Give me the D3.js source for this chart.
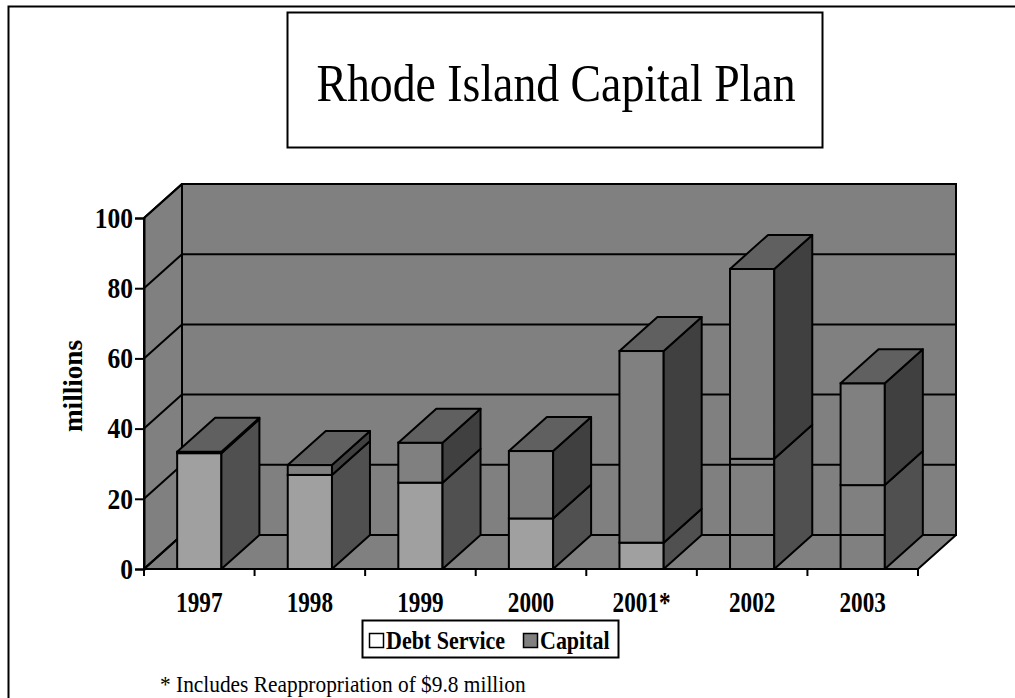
<!DOCTYPE html>
<html>
<head>
<meta charset="utf-8">
<script src="https://cdn.jsdelivr.net/npm/d3@7"></script>
<style>
  body { margin: 0; background: #fff; }
  svg { display: block; }
</style>
</head>
<body>
<svg id="chart" width="1015" height="698"></svg>
<script>
// Annual totals in millions of dollars
const years = ["1997", "1998", "1999", "2000", "2001*", "2002", "2003"];
const debtService = [33.0, 26.8, 24.6, 14.4, 7.5, 31.4, 23.9];
const capital = [0.4, 2.8, 11.4, 19.2, 54.6, 54.1, 29.0];
const yTicks = [0, 20, 40, 60, 80, 100];
const seriesNames = ["Debt Service", "Capital"];

const serif = "'Liberation Serif', 'Times New Roman', serif";
const narrow = 0.86; // horizontal squeeze applied to the lettering
const svg = d3.select("#chart");

// Places a horizontally condensed label at (px, py)
function label(parent, px, py, str, size, opts = {}) {
  const grp = parent.append("g")
    .attr("transform", `translate(${px},${py}) ${opts.rotate ? `rotate(${opts.rotate})` : ""} scale(${opts.sx || narrow},1)`);
  return grp.append("text")
    .attr("text-anchor", opts.anchor || "start")
    .attr("font-family", serif).attr("font-size", size)
    .attr("font-weight", opts.bold ? "bold" : "normal")
    .attr("fill", "#000")
    .text(str);
}

// Page frame
svg.append("rect")
  .attr("x", 8.5).attr("y", 6.5).attr("width", 1200).attr("height", 900)
  .attr("fill", "none").attr("stroke", "#000").attr("stroke-width", 2);

// Title box
svg.append("rect")
  .attr("x", 287.5).attr("y", 12.5).attr("width", 535).attr("height", 135)
  .attr("fill", "#fff").attr("stroke", "#000").attr("stroke-width", 2);
label(svg, 556, 101, "Rhode Island Capital Plan", 52, { anchor: "middle", sx: 0.88 });

// 3-D plot geometry
const x0 = 144, x1 = 918;
const dx = 38, dy = -34;
const x = d3.scaleBand().domain(years).range([x0, x1]);
const y = d3.scaleLinear().domain([0, 100]).range([569, 218]);

const line = { stroke: "#000", width: 2 };
const wallFill = "#808080";
const pt = p => p.join(",");

const g = svg.append("g");

// Side wall
g.append("polygon")
  .attr("points", [[x0, y(0)], [x0 + dx, y(0) + dy], [x0 + dx, y(100) + dy], [x0, y(100)]].map(pt).join(" "))
  .attr("fill", wallFill).attr("stroke", line.stroke).attr("stroke-width", line.width)
  .attr("stroke-linejoin", "round");
// Back wall
g.append("rect")
  .attr("x", x0 + dx).attr("y", y(100) + dy)
  .attr("width", x1 - x0).attr("height", y(0) - y(100))
  .attr("fill", wallFill).attr("stroke", line.stroke).attr("stroke-width", line.width);
// Floor
g.append("polygon")
  .attr("points", [[x0, y(0)], [x0 + dx, y(0) + dy], [x1 + dx, y(0) + dy], [x1, y(0)]].map(pt).join(" "))
  .attr("fill", wallFill).attr("stroke", line.stroke).attr("stroke-width", line.width)
  .attr("stroke-linejoin", "round");

// Gridlines on the back and side walls
yTicks.forEach(t => {
  g.append("line")
    .attr("x1", x0 + dx).attr("x2", x1 + dx)
    .attr("y1", y(t) + dy).attr("y2", y(t) + dy)
    .attr("stroke", line.stroke).attr("stroke-width", line.width);
  g.append("line")
    .attr("x1", x0).attr("x2", x0 + dx)
    .attr("y1", y(t)).attr("y2", y(t) + dy)
    .attr("stroke", line.stroke).attr("stroke-width", line.width);
});

// Stacked columns
const rows = years.map((yr, i) => ({ year: yr, "Debt Service": debtService[i], "Capital": capital[i] }));
const stacked = d3.stack().keys(seriesNames)(rows);

const faceColors = {
  "Debt Service": { front: "#a0a0a0", side: "#505050", top: "#606060" },
  "Capital": { front: "#808080", side: "#404040", top: "#606060" }
};
// Later-year debt service is drawn with an open front face
const openFront = new Set(["2002", "2003"]);

const barW = x.bandwidth() * 0.4;
const bars = g.append("g");

years.forEach((yr, i) => {
  const left = x(yr) + (x.bandwidth() - barW) / 2;
  const right = left + barW;
  stacked.forEach((layer, li) => {
    const [v0, v1] = layer[i];
    const yb = y(v0), yt = y(v1);
    const c = faceColors[layer.key];
    const isOpen = layer.key === "Debt Service" && openFront.has(yr);
    bars.append("rect")
      .attr("x", left).attr("y", yt)
      .attr("width", barW).attr("height", yb - yt)
      .attr("fill", isOpen ? "none" : c.front)
      .attr("stroke", line.stroke).attr("stroke-width", line.width);
    bars.append("polygon")
      .attr("points", [[right, yb], [right + dx, yb + dy], [right + dx, yt + dy], [right, yt]].map(pt).join(" "))
      .attr("fill", c.side)
      .attr("stroke", line.stroke).attr("stroke-width", line.width)
      .attr("stroke-linejoin", "round");
    if (li === stacked.length - 1) {
      bars.append("polygon")
        .attr("points", [[left, yt], [left + dx, yt + dy], [right + dx, yt + dy], [right, yt]].map(pt).join(" "))
        .attr("fill", c.top)
        .attr("stroke", line.stroke).attr("stroke-width", line.width)
        .attr("stroke-linejoin", "round");
    }
  });
});

// Value axis
const yAxis = svg.append("g")
  .attr("transform", `translate(${x0},0)`)
  .call(d3.axisLeft(y).tickValues(yTicks).tickSize(9).tickPadding(2).tickFormat(d3.format("d")));
yAxis.select(".domain").attr("stroke", "#000").attr("stroke-width", 2);
yAxis.selectAll(".tick line").attr("stroke", "#000").attr("stroke-width", 2);
yAxis.selectAll(".tick text")
  .attr("x", -11 / 0.88)
  .attr("transform", `scale(0.88,1)`)
  .attr("font-family", serif).attr("font-size", 29).attr("font-weight", "bold").attr("fill", "#000");

// Category axis
const xAxis = svg.append("g")
  .attr("transform", `translate(0,${y(0)})`)
  .call(d3.axisBottom(x).tickSize(0).tickPadding(22));
xAxis.select(".domain").remove();
xAxis.selectAll(".tick text")
  .attr("transform", `scale(0.8,1)`)
  .attr("font-family", serif).attr("font-size", 29).attr("font-weight", "bold").attr("fill", "#000");
const bounds = years.map(yr => x(yr)).concat([x1]);
svg.append("g").selectAll("line").data(bounds).join("line")
  .attr("x1", d => d).attr("x2", d => d)
  .attr("y1", y(0)).attr("y2", y(0) + 7)
  .attr("stroke", "#000").attr("stroke-width", 2);

// Axis title
label(svg, 82, 386, "millions", 28, { anchor: "middle", bold: true, rotate: -90, sx: 0.97 });

// Legend
const legend = svg.append("g");
legend.append("rect")
  .attr("x", 362.5).attr("y", 620.5).attr("width", 256).attr("height", 37)
  .attr("fill", "#fff").attr("stroke", "#000").attr("stroke-width", 2);
const legendItems = [
  { name: seriesNames[0], swatch: "#fff", x: 369 },
  { name: seriesNames[1], swatch: "#808080", x: 523 }
];
legendItems.forEach(d => {
  legend.append("rect")
    .attr("x", d.x + 0.5).attr("y", 633.5).attr("width", 14).attr("height", 14)
    .attr("fill", d.swatch).attr("stroke", "#000").attr("stroke-width", 1.5);
  label(legend, d.x + 17, 649, d.name, 25, { bold: true, sx: 0.88 });
});

// Footnote
label(svg, 160, 692, "* Includes Reappropriation of $9.8 million", 23, { sx: 0.93 });
</script>
</body>
</html>
